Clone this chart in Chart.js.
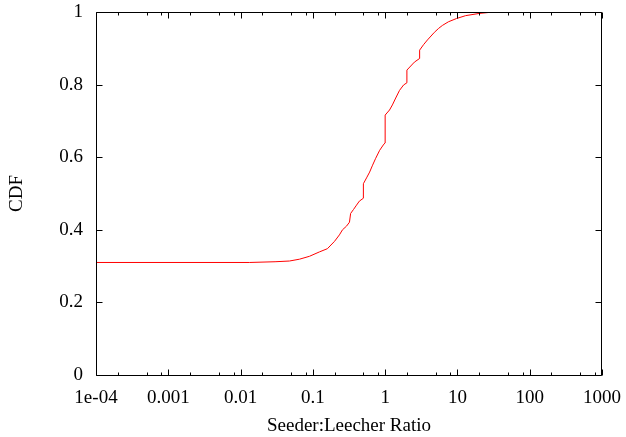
<!DOCTYPE html>
<html lang="en">
<head>
<meta charset="UTF-8" />
<title>Seeder:Leecher Ratio CDF</title>
<script src="https://cdn.jsdelivr.net/npm/chart.js"></script>
<style>
  html, body { margin: 0; padding: 0; background: #fff; }
  #wrap { width: 626px; height: 437px; }
</style>
</head>
<body>
<div id="wrap"><canvas id="cdfChart" width="626" height="437"></canvas></div>
<script>
  // CDF points (x = seeder:leecher ratio, y = CDF)
  const ratio = [
    0.0001, 0.0132, 0.03, 0.0474, 0.0653, 0.0897, 0.123, 0.159, 0.199, 0.233,
    0.257, 0.292, 0.321, 0.333, 0.365, 0.402, 0.44, 0.5, 0.5, 0.553,
    0.61, 0.67, 0.74, 0.84, 0.96, 1.0, 1.0, 1.15, 1.26, 1.40,
    1.58, 1.80, 2.0, 2.0, 2.54, 3.0, 3.0, 3.4, 3.85, 4.8,
    5.5, 6.2, 7.5, 9.7, 13, 20, 28, 40, 1000
  ];
  const cdf = [
    0.310, 0.310, 0.312, 0.314, 0.319, 0.327, 0.339, 0.348, 0.368, 0.386,
    0.400, 0.410, 0.421, 0.445, 0.456, 0.468, 0.479, 0.487, 0.527, 0.543,
    0.559, 0.578, 0.597, 0.619, 0.636, 0.639, 0.716, 0.730, 0.744, 0.763,
    0.784, 0.799, 0.805, 0.840, 0.862, 0.872, 0.895, 0.910, 0.923, 0.944,
    0.955, 0.963, 0.973, 0.982, 0.990, 0.996, 0.999, 1.0, 1.0
  ];

  const xTickValues = [1e-4, 1e-3, 0.01, 0.1, 1, 10, 100, 1000];
  const xTickLabels = ['1e-04', '0.001', '0.01', '0.1', '1', '10', '100', '1000'];
  const xMinorSteps = [2, 5, 8];
  const yTickValues = [0, 0.2, 0.4, 0.6, 0.8, 1];
  const yTickLabels = ['0', '0.2', '0.4', '0.6', '0.8', '1'];

  const serif = { family: "'Liberation Serif', 'DejaVu Serif', serif", size: 19 };

  // gnuplot-like frame with inward ticks on all four sides
  const frameTicks = {
    id: 'frameTicks',
    afterDraw(chart) {
      const { ctx, chartArea: a, scales: { x, y } } = chart;
      const L = Math.round(a.left) + 0.5, R = Math.round(a.right) - 0.5;
      const T = Math.round(a.top) + 0.5, B = Math.round(a.bottom) + 0.5;
      ctx.save();
      ctx.strokeStyle = '#000';
      ctx.lineWidth = 1;
      ctx.beginPath();
      ctx.rect(L, T, R - L, B - T);

      const xTick = (v, len) => {
        const px = Math.round(x.getPixelForValue(v)) + 0.5;
        ctx.moveTo(px, B); ctx.lineTo(px, B - len);
        ctx.moveTo(px, T); ctx.lineTo(px, T + len);
      };
      xTickValues.forEach((v, i) => {
        xTick(v, 6);
        if (i < xTickValues.length - 1) xMinorSteps.forEach(m => xTick(v * m, 3));
      });
      yTickValues.forEach(v => {
        const py = Math.round(y.getPixelForValue(v)) + 0.5;
        ctx.moveTo(L, py); ctx.lineTo(L + 6, py);
        ctx.moveTo(R, py); ctx.lineTo(R - 6, py);
      });
      ctx.stroke();
      ctx.restore();
    }
  };

  new Chart(document.getElementById('cdfChart'), {
    type: 'scatter',
    data: {
      datasets: [{
        data: ratio.map((r, i) => ({ x: r, y: cdf[i] })),
        showLine: true,
        borderColor: '#ff0000',
        borderWidth: 1,
        pointRadius: 0,
        fill: false,
        tension: 0
      }]
    },
    options: {
      responsive: false,
      animation: false,
      layout: { padding: { left: 0, right: 24, top: 12, bottom: 0 } },
      plugins: { legend: { display: false }, tooltip: { enabled: false } },
      scales: {
        x: {
          type: 'logarithmic',
          min: 1e-4,
          max: 1000,
          grid: { display: false, drawTicks: false },
          border: { display: false },
          afterBuildTicks: s => { s.ticks = xTickValues.map(v => ({ value: v })); },
          afterFit: s => { s.height = 62; s.paddingLeft = 0; s.paddingRight = 0; },
          ticks: {
            font: serif, color: '#000', padding: 12,
            maxRotation: 0, autoSkip: false,
            callback: (v, i) => xTickLabels[i]
          },
          title: {
            display: true, text: 'Seeder:Leecher Ratio',
            font: serif, color: '#000', padding: { top: 0, bottom: 0 }
          }
        },
        y: {
          min: 0,
          max: 1,
          grid: { display: false, drawTicks: false },
          border: { display: false },
          afterBuildTicks: s => { s.ticks = yTickValues.map(v => ({ value: v })); },
          afterFit: s => { s.width = 96; s.paddingTop = 0; s.paddingBottom = 0; },
          ticks: {
            font: serif, color: '#000', padding: 13,
            callback: (v, i) => yTickLabels[i]
          },
          title: {
            display: true, text: 'CDF',
            font: serif, color: '#000', padding: { top: 6, bottom: 0 }
          }
        }
      }
    },
    plugins: [frameTicks]
  });
</script>
</body>
</html>
